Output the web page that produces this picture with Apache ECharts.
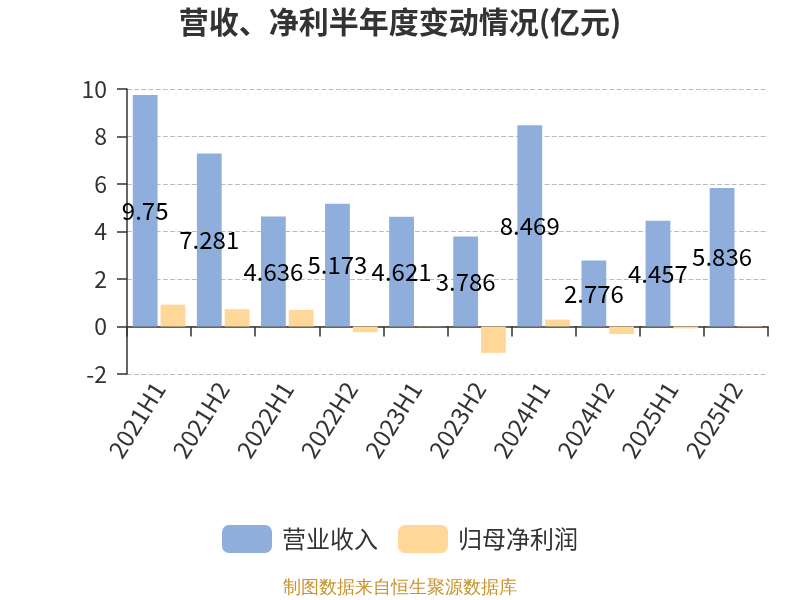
<!DOCTYPE html>
<html>
<head>
<meta charset="utf-8">
<script src="https://cdn.jsdelivr.net/npm/echarts@6/dist/echarts.min.js"></script>
<style>
  html, body { margin: 0; padding: 0; background: #fff; }
  #chart { width: 800px; height: 600px; }
</style>
</head>
<body>
<div id="chart"></div>
<script>
// 半年度数据（亿元）
const periods = ['2021H1', '2021H2', '2022H1', '2022H2', '2023H1', '2023H2', '2024H1', '2024H2', '2025H1', '2025H2']
const revenue = [9.75, 7.281, 4.636, 5.173, 4.621, 3.786, 8.469, 2.776, 4.457, 5.836]
const netProfit = [0.92, 0.73, 0.70, -0.24, -0.01, -1.11, 0.29, -0.32, -0.08, 0.02]
const yTicks = [-2, 0, 2, 4, 6, 8, 10]

const chart = echarts.init(document.getElementById('chart'))
chart.setOption({
  animation: false,
  textStyle: { fontFamily: 'Noto Sans CJK SC, Noto Sans, sans-serif' },
  title: {
    text: '营收、净利半年度变动情况(亿元)',
    left: 'center',
    top: 2,
    textStyle: { fontSize: 30, fontWeight: 'bold', color: '#333' }
  },
  legend: {
    top: 520,
    itemWidth: 50,
    itemHeight: 28,
    itemGap: 20,
    icon: 'roundRect',
    textStyle: { fontSize: 24, color: '#333', padding: [0, 0, 0, 5] },
    data: ['营业收入', '归母净利润']
  },
  graphic: [{
    type: 'text',
    left: 'center',
    top: 579,
    style: { text: '制图数据来自恒生聚源数据库', fill: '#c8922a', fontSize: 18 }
  }],
  grid: { left: 127, right: 32, top: 89, bottom: 226 },
  xAxis: {
    type: 'category',
    data: periods,
    axisLine: { lineStyle: { color: '#333', width: 1.5 } },
    axisTick: { show: true, length: 10, lineStyle: { color: '#333', width: 1.5 } },
    axisLabel: { rotate: 58, fontSize: 24, color: '#333', margin: 10, interval: 0 }
  },
  yAxis: {
    type: 'value',
    min: yTicks[0],
    max: yTicks[yTicks.length - 1],
    interval: 2,
    axisLine: { show: true, lineStyle: { color: '#333', width: 1.5 } },
    axisTick: { show: true, length: 10, lineStyle: { color: '#333', width: 1.5 } },
    axisLabel: { fontSize: 23, color: '#333', margin: 20 },
    splitLine: { lineStyle: { type: 'dashed', color: '#bbb', width: 1.2 } }
  },
  series: [
    {
      name: '营业收入',
      type: 'bar',
      data: revenue,
      barGap: '12%',
      barCategoryGap: '18%',
      itemStyle: { color: '#8FAEDC' },
      label: {
        show: true,
        position: 'inside',
        fontSize: 24,
        color: '#000',
        formatter: p => String(p.value)
      }
    },
    {
      name: '归母净利润',
      type: 'bar',
      data: netProfit,
      itemStyle: { color: '#FFD899' }
    }
  ]
})
</script>
</body>
</html>
